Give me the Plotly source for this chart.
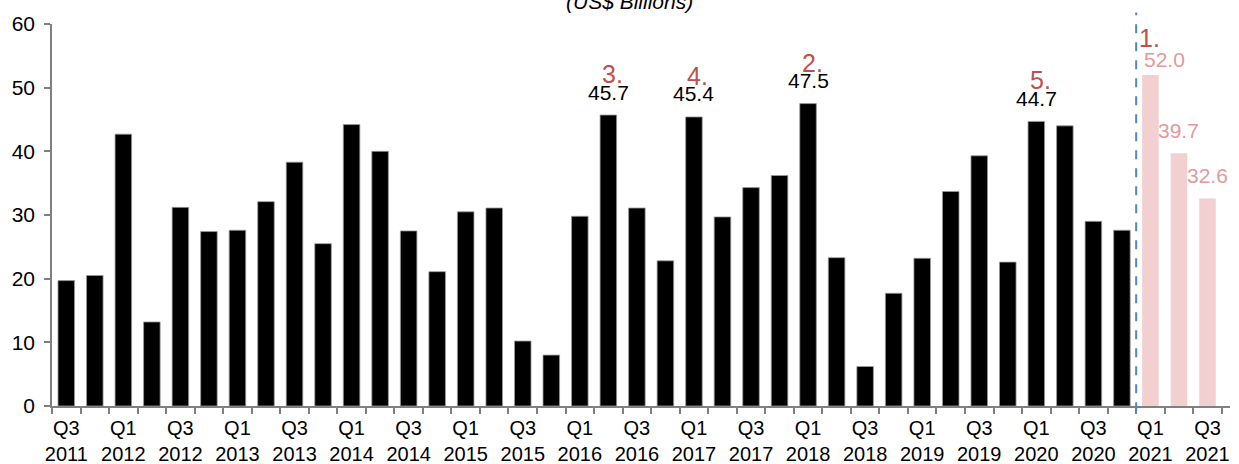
import plotly.graph_objects as go

quarters = [
    "Q3 2011", "Q4 2011",
    "Q1 2012", "Q2 2012", "Q3 2012", "Q4 2012",
    "Q1 2013", "Q2 2013", "Q3 2013", "Q4 2013",
    "Q1 2014", "Q2 2014", "Q3 2014", "Q4 2014",
    "Q1 2015", "Q2 2015", "Q3 2015", "Q4 2015",
    "Q1 2016", "Q2 2016", "Q3 2016", "Q4 2016",
    "Q1 2017", "Q2 2017", "Q3 2017", "Q4 2017",
    "Q1 2018", "Q2 2018", "Q3 2018", "Q4 2018",
    "Q1 2019", "Q2 2019", "Q3 2019", "Q4 2019",
    "Q1 2020", "Q2 2020", "Q3 2020", "Q4 2020",
]
actual_values = [
    19.7, 20.5, 42.7, 13.2, 31.2, 27.4, 27.6, 32.1, 38.3, 25.5,
    44.2, 40.0, 27.5, 21.1, 30.5, 31.1, 10.2, 8.0, 29.8, 45.7,
    31.1, 22.8, 45.4, 29.7, 34.3, 36.2, 47.5, 23.3, 6.2, 17.7,
    23.2, 33.7, 39.3, 22.6, 44.7, 44.0, 29.0, 27.6,
]
forecast_quarters = ["Q1 2021", "Q2 2021", "Q3 2021"]
forecast_values = [52.0, 39.7, 32.6]

# top-5 ranked quarters (label shown on chart)
ranked_quarters = ["Q1 2021", "Q1 2018", "Q2 2016", "Q1 2017", "Q1 2020"]
ranks = ["1.", "2.", "3.", "4.", "5."]

all_quarters = quarters + forecast_quarters
tick_text = [
    (q.replace(" ", "<br>") if i % 2 == 0 else "") for i, q in enumerate(all_quarters)
]

FONT = "Liberation Sans, Arial, sans-serif"
RED = "#c0504d"
PINK_BAR = "#f2d0d1"
PINK_TXT = "#e3999a"

fig = go.Figure()
fig.add_trace(go.Bar(
    x=quarters, y=actual_values, width=0.58,
    marker=dict(color="#000000", line=dict(color="#9a9a9a", width=0.8)),
    hoverinfo="x+y", showlegend=False,
))
fig.add_trace(go.Bar(
    x=forecast_quarters, y=forecast_values, width=0.58,
    marker=dict(color=PINK_BAR, line=dict(width=0)),
    hoverinfo="x+y", showlegend=False,
))

annotations = []
value_of = dict(zip(all_quarters, actual_values + forecast_values))
for q, r in zip(ranked_quarters, ranks):
    v = value_of[q]
    is_fc = q in forecast_quarters
    if is_fc:
        annotations.append(dict(x=q, y=v, text=f"{v:.1f}", showarrow=False,
                                xshift=14, yshift=15, yanchor="middle",
                                font=dict(family=FONT, size=21, color=PINK_TXT)))
        annotations.append(dict(x=q, y=v, text=r, showarrow=False,
                                xshift=-1, yshift=37, yanchor="middle",
                                font=dict(family=FONT, size=25, color=RED)))
    else:
        annotations.append(dict(x=q, y=v, text=f"{v:.1f}", showarrow=False,
                                yshift=23, yanchor="middle",
                                font=dict(family=FONT, size=21, color="#000000")))
        annotations.append(dict(x=q, y=v, text=r, showarrow=False,
                                xshift=4, yshift=41, yanchor="middle",
                                font=dict(family=FONT, size=25, color=RED)))
for q, v in zip(forecast_quarters, forecast_values):
    if q not in ranked_quarters:
        annotations.append(dict(x=q, y=v, text=f"{v:.1f}", showarrow=False,
                                yshift=23, yanchor="middle",
                                font=dict(family=FONT, size=21, color=PINK_TXT)))

annotations.append(dict(xref="paper", yref="paper", x=0.49, y=1.058,
                        text="<i>(US$ Billions)</i>", showarrow=False,
                        yanchor="middle", xanchor="center",
                        font=dict(family=FONT, size=21, color="#000000")))

fig.update_layout(
    width=1239, height=464,
    margin=dict(l=52, r=9, t=24, b=58, autoexpand=False),
    paper_bgcolor="white", plot_bgcolor="white",
    font=dict(family=FONT, size=20, color="#000000"),
    bargap=0.42,
    annotations=annotations,
    shapes=[dict(type="line", xref="x", yref="paper",
                 x0=len(quarters) - 0.5, x1=len(quarters) - 0.5,
                 y0=-0.014, y1=1.03,
                 line=dict(color="#4f86c6", width=2, dash="dash"))],
)
fig.update_xaxes(
    type="category", categoryorder="array", categoryarray=all_quarters,
    tickmode="array", tickvals=all_quarters, ticktext=tick_text,
    tickson="boundaries", ticks="outside", ticklen=6, tickcolor="#808080",
    tickwidth=1.5, ticklabelstandoff=3, automargin=False,
    showline=True, linecolor="#808080", linewidth=1.5,
    showgrid=False, zeroline=False, tickangle=0,
    tickfont=dict(family=FONT, size=20, color="#000000"),
)
fig.update_yaxes(
    range=[0, 60], tickvals=[0, 10, 20, 30, 40, 50, 60],
    ticks="outside", ticklen=6, tickcolor="#808080", tickwidth=1.5,
    ticklabelstandoff=5, automargin=False,
    showline=True, linecolor="#808080", linewidth=1.5,
    showgrid=False, zeroline=False,
    tickfont=dict(family=FONT, size=21, color="#000000"),
)

fig.write_html("out.html", config={"displayModeBar": False},
               post_script="document.body.style.margin='0';")
